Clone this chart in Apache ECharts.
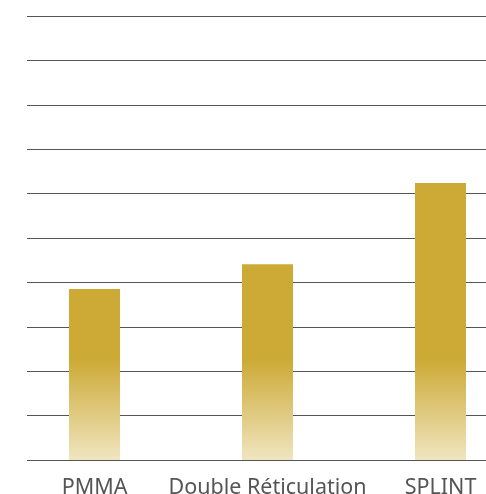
<!DOCTYPE html>
<html>
<head>
<meta charset="utf-8">
<script src="https://cdn.jsdelivr.net/npm/echarts@6/dist/echarts.min.js"></script>
<style>
  html, body { margin: 0; padding: 0; background: #fff; }
  #chart { width: 486px; height: 494px; }
</style>
</head>
<body>
<div id="chart"></div>
<script>
// Materials compared
const categories = ['PMMA', 'Double Réticulation', 'SPLINT'];
// Measured values per material
const values = [3.85, 4.41, 6.24];

const chart = echarts.init(document.getElementById('chart'));

chart.setOption({
  animation: false,
  grid: { left: 8, width: 519, top: 16, bottom: 34, outerBoundsMode: 'none', containLabel: false },
  xAxis: {
    type: 'category',
    data: categories,
    axisLine: { lineStyle: { color: '#555', width: 1 } },
    axisTick: { show: false },
    axisLabel: {
      color: '#555',
      fontFamily: 'Noto Sans',
      fontSize: 21.5,
      margin: 17,
      interval: 0
    }
  },
  yAxis: {
    type: 'value',
    min: 0,
    max: 10,
    interval: 1,
    axisLabel: { show: false },
    axisLine: { show: false },
    axisTick: { show: false },
    splitLine: { lineStyle: { color: '#555', width: 1 } }
  },
  series: [{
    type: 'bar',
    data: values,
    barWidth: 51,
    itemStyle: {
      // fade toward the baseline over the lowest band of the plot
      color: new echarts.graphic.LinearGradient(0, 360, 0, 460, [
        { offset: 0, color: '#CDAA36' },
        { offset: 1, color: '#F0E5C0' }
      ], true)
    }
  }],
  graphic: [{
    type: 'rect',
    left: 0,
    top: 0,
    z: 100,
    shape: { x: 0, y: 0, width: 27, height: 470 },
    style: { fill: '#fff' }
  }]
});
</script>
</body>
</html>
